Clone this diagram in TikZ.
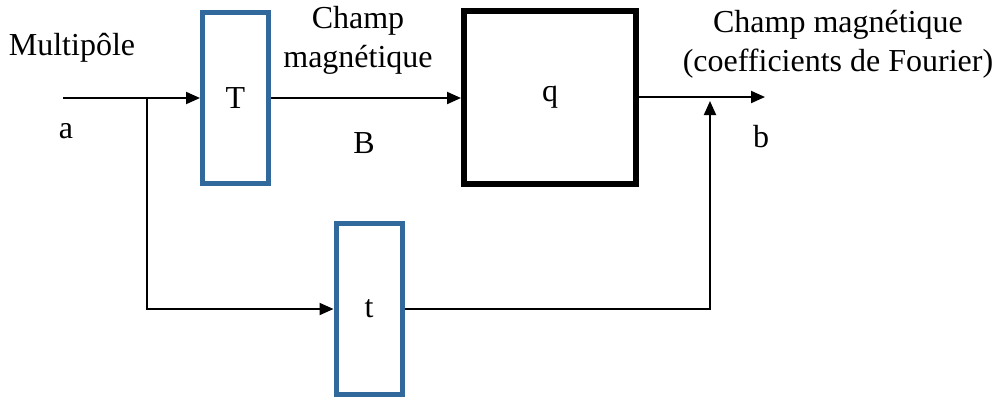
\documentclass[tikz,border=0pt]{standalone}
\usepackage{fontspec}
\setmainfont{Liberation Serif}
\usepackage{tikz}
\usetikzlibrary{
  arrows.meta,
  positioning
}
\definecolor{blkBlue}{HTML}{31699C}
\tikzset{
  blk/.style={
    draw, inner sep=0pt, minimum width=33pt, minimum height=85.5pt,
    font=\rmfamily\fontsize{16}{19}\selectfont
  },
  thinblk/.style={blk, draw=blkBlue, line width=2.5pt},
  bigblk/.style={blk, draw=black, line width=3pt, minimum width=86pt, minimum height=86.5pt},
  sig/.style={-{Triangle[length=7pt, width=6pt]}, line width=1pt},
  lbl/.style={font=\rmfamily\fontsize{16}{19.5}\selectfont, align=center, inner sep=0pt}
}

\begin{document}
\begin{tikzpicture}[x=0.5pt, y=-0.5pt]
  \useasboundingbox (0,0) rectangle (997,398);
  \node[thinblk] (T) at (235.5,98) {T};
  \node[bigblk] (q) at (550,97) {q};
  \node[thinblk] (t) at (369,309) {t};
  \coordinate (in) at (63,98);
  \coordinate (br) at (147,98);
  \coordinate (out) at (765,98);
  \coordinate (jn) at (710,101);
  \draw[sig] (in) -- (T.west);
  \draw[sig] (T.east) -- (T.east -| q.west);
  \draw[sig] (q.east) -- (q.east -| out);
  \draw[sig] (br) |- (t.west);
  \draw[sig] (t.east) -| (jn);
  % labels
  \node[lbl] (lMul) at (72,48) {Multipôle};
  \node[lbl] (la) at (66,131) {a};
  \node[lbl] (lChamp) at (358,40) {Champ\\magnétique};
  \node[lbl] (lB) at (364,143) {B};
  \node[lbl] (lFour) at (838,44) {Champ magnétique\\(coefficients de Fourier)};
  \node[lbl] (lb) at (761,137) {b};
\end{tikzpicture}
\end{document}
